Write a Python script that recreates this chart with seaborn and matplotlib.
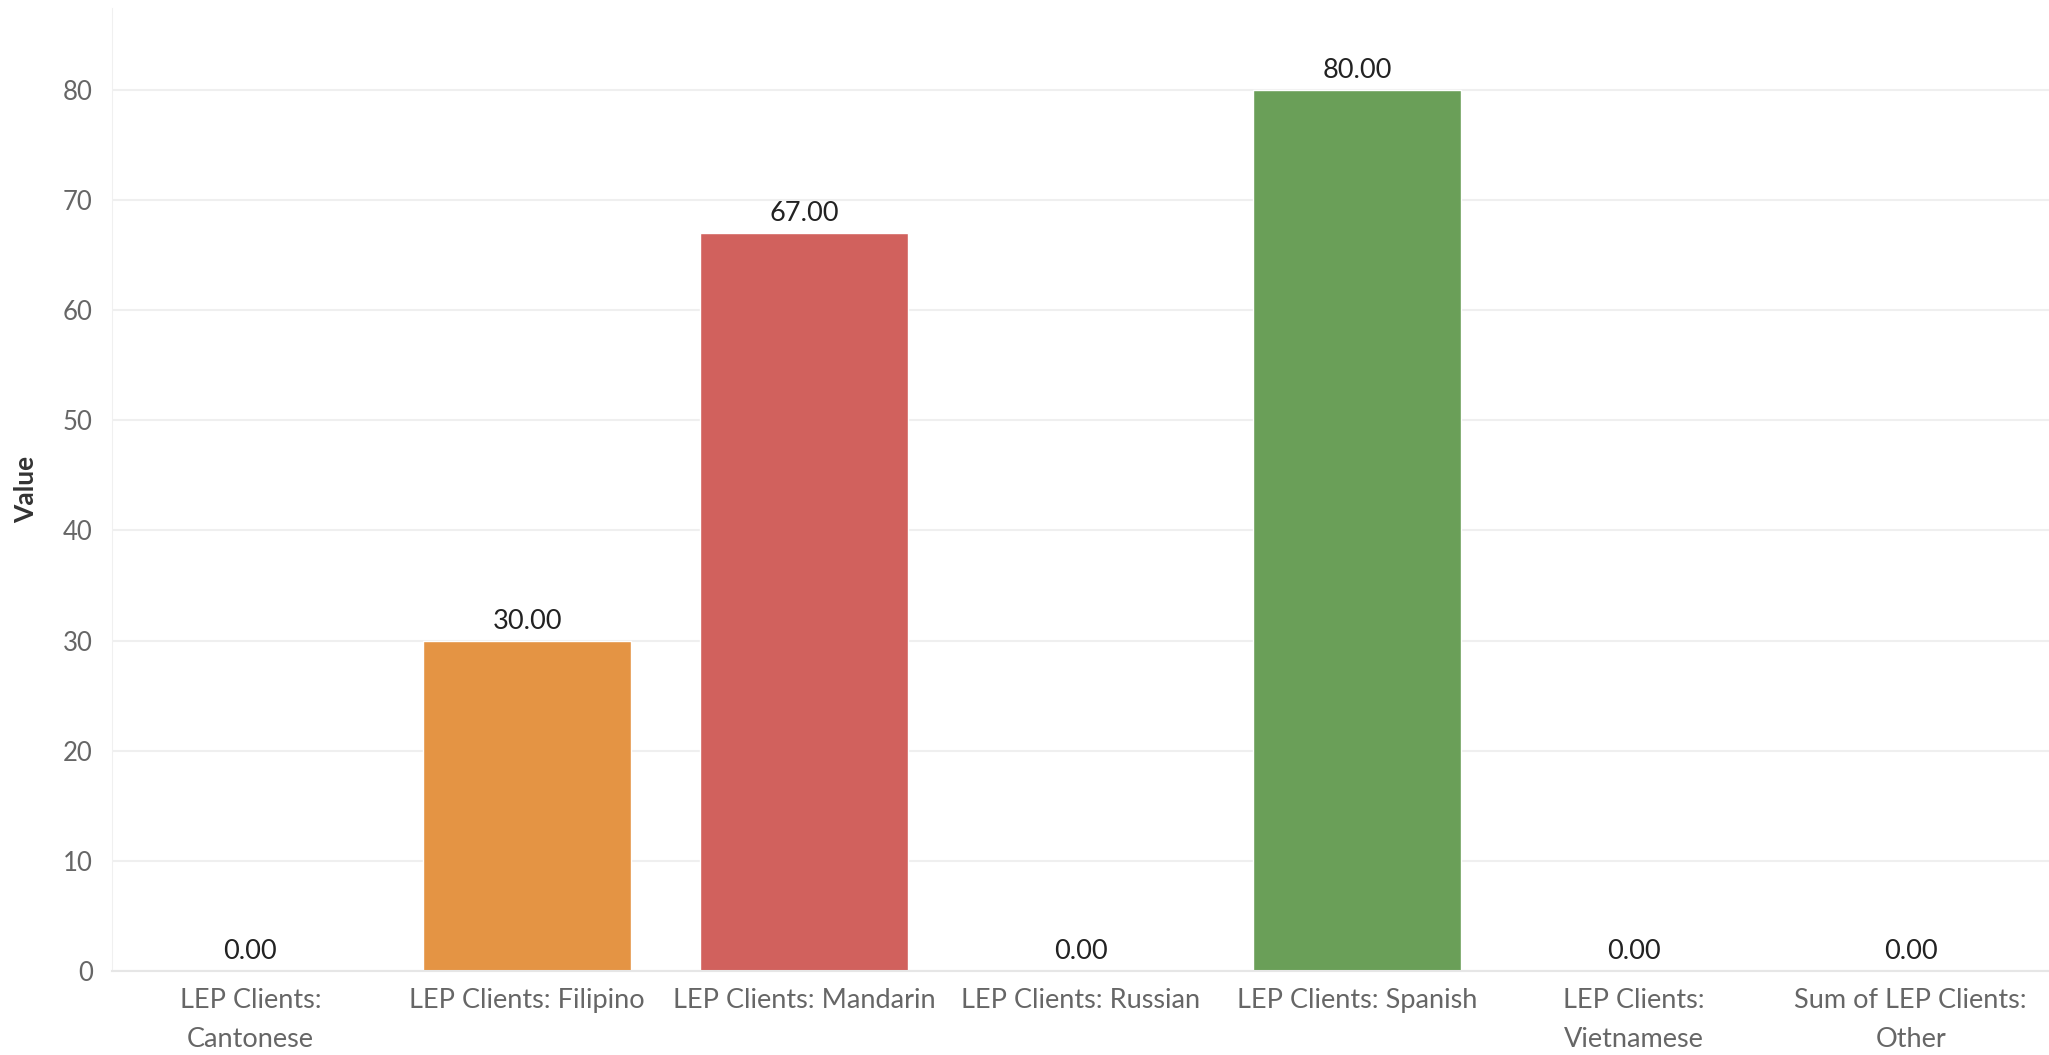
import matplotlib
matplotlib.use("Agg")
import matplotlib.pyplot as plt
import seaborn as sns

# data
categories = [
    "LEP Clients:\nCantonese",
    "LEP Clients: Filipino",
    "LEP Clients: Mandarin",
    "LEP Clients: Russian",
    "LEP Clients: Spanish",
    "LEP Clients:\nVietnamese",
    "Sum of LEP Clients:\nOther",
]
values = [0, 30, 67, 0, 80, 0, 0]
colors = ["#5778a4", "#e49444", "#d1615d", "#85b6b2", "#6a9f58", "#e7ca60", "#a87c9f"]
y_ticks = [0, 10, 20, 30, 40, 50, 60, 70, 80]

sns.set_style("white")
plt.rcParams["font.family"] = ["Lato", "DejaVu Sans"]

fig = plt.figure(figsize=(20.49, 10.55), dpi=100)
ax = fig.add_axes([0.0547, 0.0795, 0.9453, 0.9129])

sns.barplot(
    x=categories,
    y=values,
    hue=categories,
    palette=colors,
    width=0.75,
    legend=False,
    saturation=1,
    ax=ax
)

for container in ax.containers:
    ax.bar_label(container, fmt="%.2f", padding=5, fontsize=19.5, color="#222222")

ax.set_xlim(-0.5, len(categories) - 0.5)
ax.set_ylim(0, 87.4)
ax.set_yticks(y_ticks)
ax.yaxis.grid(True, color="#efefef", linewidth=1.5)
ax.set_axisbelow(True)

ax.tick_params(axis="y", labelsize=18.5, labelcolor="#666666", length=0, pad=14)
ax.tick_params(axis="x", labelsize=19.5, labelcolor="#666666", length=0, pad=12)
for lbl in ax.get_xticklabels():
    lbl.set_linespacing(1.7)

# light separators between categories
ax.set_xticks([i - 0.5 for i in range(len(categories) + 1)], minor=True)
ax.tick_params(axis="x", which="minor", length=12, color="#e6e6e6", width=1.2)

ax.set_xlabel("")
ax.set_ylabel("Value", fontsize=19, fontweight="bold", color="#333333", labelpad=18)

for side in ["top", "right"]:
    ax.spines[side].set_visible(False)
ax.spines["left"].set_color("#f0f0f0")
ax.spines["bottom"].set_color("#e6e6e6")
ax.spines["bottom"].set_linewidth(1.5)

plt.savefig("out.png", dpi=100)
